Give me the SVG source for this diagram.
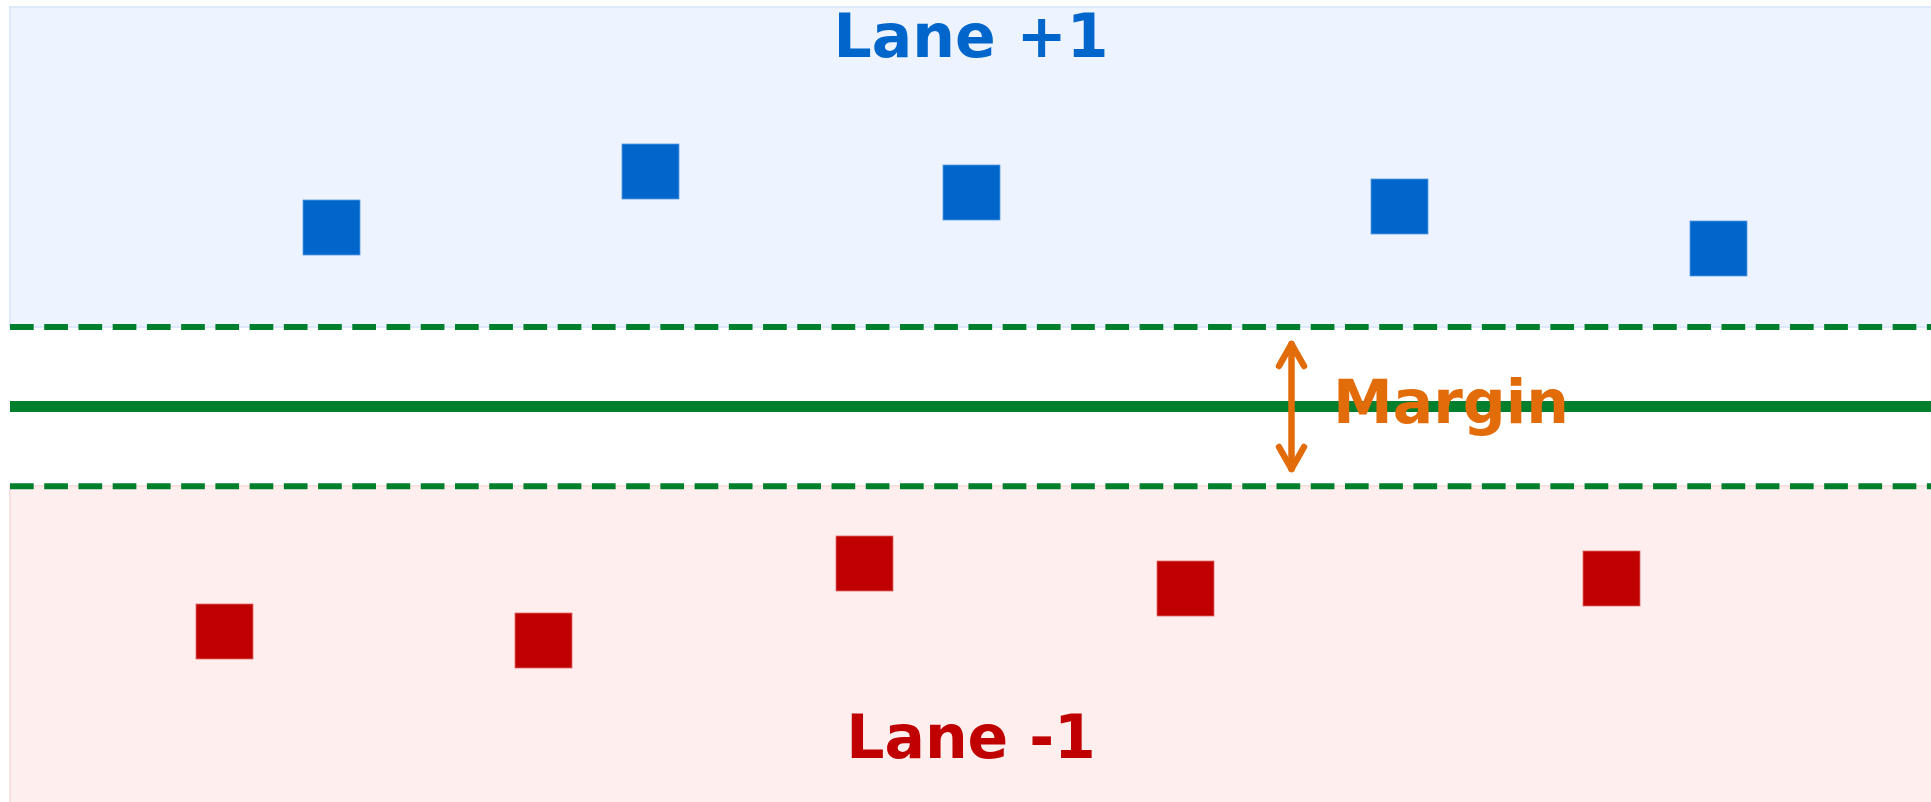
<svg xmlns="http://www.w3.org/2000/svg" width="1931" height="802" viewBox="0 0 1931 802">
  <defs>
    <style>
      .label { font-family: "DejaVu Sans", "Liberation Sans", sans-serif; font-weight: bold; font-stretch: normal; font-size: 60px; }
      .lane-pos { fill: #EDF4FF; stroke: #DDE8FB; stroke-width: 2; }
      .lane-neg { fill: #FFEEEE; stroke: #FBE0E0; stroke-width: 2; }
      .pt-pos { fill: #0066CC; stroke: #5A9BE0; stroke-width: 0.8; }
      .pt-neg { fill: #C00000; stroke: #E06A6A; stroke-width: 0.8; }
      .bound { stroke: #007F2D; fill: none; }
      .dashed { stroke-width: 6; stroke-dasharray: 23.7 10.53; }
      .arrow { stroke: #E36C0A; stroke-width: 6.5; fill: none; stroke-linecap: round; stroke-linejoin: round; }
    </style>
  </defs>

  <!-- lane backgrounds -->
  <rect class="lane-pos" x="10" y="7" width="1930" height="320"/>
  <rect class="lane-neg" x="10" y="486" width="1930" height="330"/>

  <!-- decision boundary and margin lines -->
  <g id="connectors">
    <line class="bound dashed" x1="10" y1="327" x2="1931" y2="327"/>
    <line class="bound" x1="10" y1="406.5" x2="1931" y2="406.5" stroke-width="11"/>
    <line class="bound dashed" x1="10" y1="486.3" x2="1931" y2="486.3"/>
    <g id="margin-arrow">
      <line class="arrow" x1="1291.5" y1="344" x2="1291.5" y2="469"/>
      <polyline class="arrow" points="1279,366 1291.5,344 1304,366"/>
      <polyline class="arrow" points="1279,447 1291.5,469 1304,447"/>
    </g>
  </g>

  <!-- positive class samples -->
  <g id="pos-1"><rect class="pt-pos" x="303" y="200" width="57" height="55"/></g>
  <g id="pos-2"><rect class="pt-pos" x="622" y="144" width="57" height="55"/></g>
  <g id="pos-3"><rect class="pt-pos" x="943" y="165" width="57" height="55"/></g>
  <g id="pos-4"><rect class="pt-pos" x="1371" y="179" width="57" height="55"/></g>
  <g id="pos-5"><rect class="pt-pos" x="1690" y="221" width="57" height="55"/></g>

  <!-- negative class samples -->
  <g id="neg-1"><rect class="pt-neg" x="196" y="604" width="57" height="55"/></g>
  <g id="neg-2"><rect class="pt-neg" x="515" y="613" width="57" height="55"/></g>
  <g id="neg-3"><rect class="pt-neg" x="836" y="536" width="57" height="55"/></g>
  <g id="neg-4"><rect class="pt-neg" x="1157" y="561" width="57" height="55"/></g>
  <g id="neg-5"><rect class="pt-neg" x="1583" y="551" width="57" height="55"/></g>

  <!-- labels -->
  <g id="label-pos"><text class="label" x="971" y="57" text-anchor="middle" fill="#0066CC">Lane +1</text></g>
  <g id="label-neg"><text class="label" x="971" y="758" text-anchor="middle" fill="#C00000">Lane -1</text></g>
  <g id="label-margin"><text class="label" x="1333" y="423" fill="#E36C0A">Margin</text></g>
</svg>
